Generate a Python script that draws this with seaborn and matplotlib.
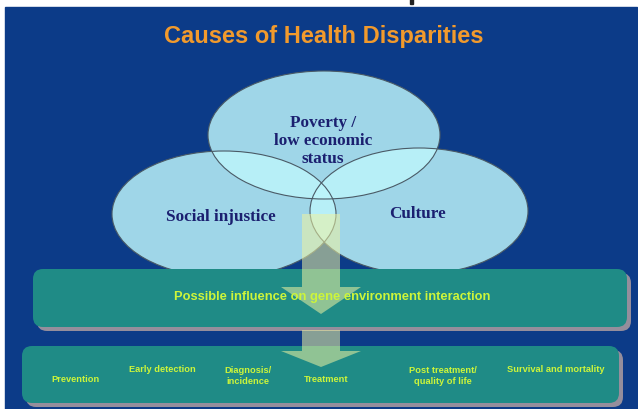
"""Causes of Health Disparities - slide diagram."""

import matplotlib

matplotlib.use("Agg")

import matplotlib.pyplot as plt
import seaborn as sns
from matplotlib.patches import Ellipse, FancyArrow, FancyBboxPatch, Rectangle


sns.set_theme(style="white")
plt.rcParams["font.family"] = ["Liberation Sans", "DejaVu Sans"]

TITLE = "Causes of Health Disparities"
CAUSES = ["Poverty /\nlow economic\nstatus", "Social injustice", "Culture"]
INFLUENCE = "Possible influence on gene environment interaction"
STAGES = [
    "Prevention",
    "Early detection",
    "Diagnosis/\nincidence",
    "Treatment",
    "Post treatment/\nquality of life",
    "Survival and mortality",
]

BLUE = "#0c3b88"
TEAL = "#1f8b86"
SHADOW = "#958e9c"
CYAN = "#bcf5fb"
NAVY = "#1b2070"
LIME = "#cdf53a"
ORANGE = "#f29a2c"

# ellipse centre x, centre y, width, height (pixels)
cause_boxes = [(324, 136, 232, 128), (224, 215, 224, 126), (419, 212, 218, 126)]
cause_text_pos = [(323, 141), (221, 217), (418, 214)]
stage_pos = [(76, 380), (162, 370), (248, 376), (326, 380), (443, 376), (556, 370)]

fig = plt.figure(figsize=(6.38, 4.10), dpi=100)
ax = fig.add_axes([0, 0, 1, 1])
ax.set_xlim(0, 638)
ax.set_ylim(410, 0)
ax.axis("off")

# slide background and the bit of a glyph peeking above it
ax.add_patch(Rectangle((5, 8), 632, 404, color=BLUE, zorder=0))
ax.add_patch(Rectangle((410, 0), 3, 5, color="#222222", zorder=0))

ax.text(324, 37, TITLE, fontsize=17, fontweight="bold", color=ORANGE,
        ha="center", va="center")

# venn of causes
for (cx, cy, w, h) in cause_boxes:
    ax.add_patch(Ellipse((cx, cy), w, h, facecolor=CYAN, alpha=0.84,
                         edgecolor="none", zorder=2))
    ax.add_patch(Ellipse((cx, cy), w, h, facecolor="none",
                         edgecolor="#4a5a66", lw=0.8, zorder=3))

for label, (tx, ty) in zip(CAUSES, cause_text_pos):
    ax.text(tx, ty, label, fontsize=12.3, fontweight="bold", color=NAVY,
            family=["Liberation Serif", "DejaVu Serif"], ha="center",
            va="center", linespacing=1.15, zorder=6)

# rounded bars with shadow
bars = [(33, 270, 594, 58), (22, 347, 597, 57)]
for (bx, by, bw, bh) in bars:
    ax.add_patch(FancyBboxPatch((bx + 4, by + 4), bw, bh,
                                boxstyle="round,pad=0,rounding_size=10",
                                facecolor=SHADOW, edgecolor="none", zorder=3))
    ax.add_patch(FancyBboxPatch((bx, by), bw, bh,
                                boxstyle="round,pad=0,rounding_size=10",
                                facecolor=TEAL, edgecolor="none", zorder=4))

# arrows down through the bars
arrow_kw = dict(width=38, head_width=80, length_includes_head=True,
                facecolor="#eef2a0", edgecolor="none", alpha=0.55, zorder=5)
ax.add_patch(FancyArrow(321, 215, 0, 100, head_length=27, **arrow_kw))
ax.add_patch(FancyArrow(321, 331, 0, 37, head_length=16, **arrow_kw))

ax.text(332, 297, INFLUENCE, fontsize=9.3, fontweight="bold", color=LIME,
        ha="center", va="center", zorder=7)

for label, (sx, sy) in zip(STAGES, stage_pos):
    ax.text(sx, sy, label, fontsize=6.7, fontweight="bold", color=LIME,
            ha="center", va="center", linespacing=1.2, zorder=7)

fig.savefig("out.png", dpi=100, facecolor="white")
plt.close(fig)
